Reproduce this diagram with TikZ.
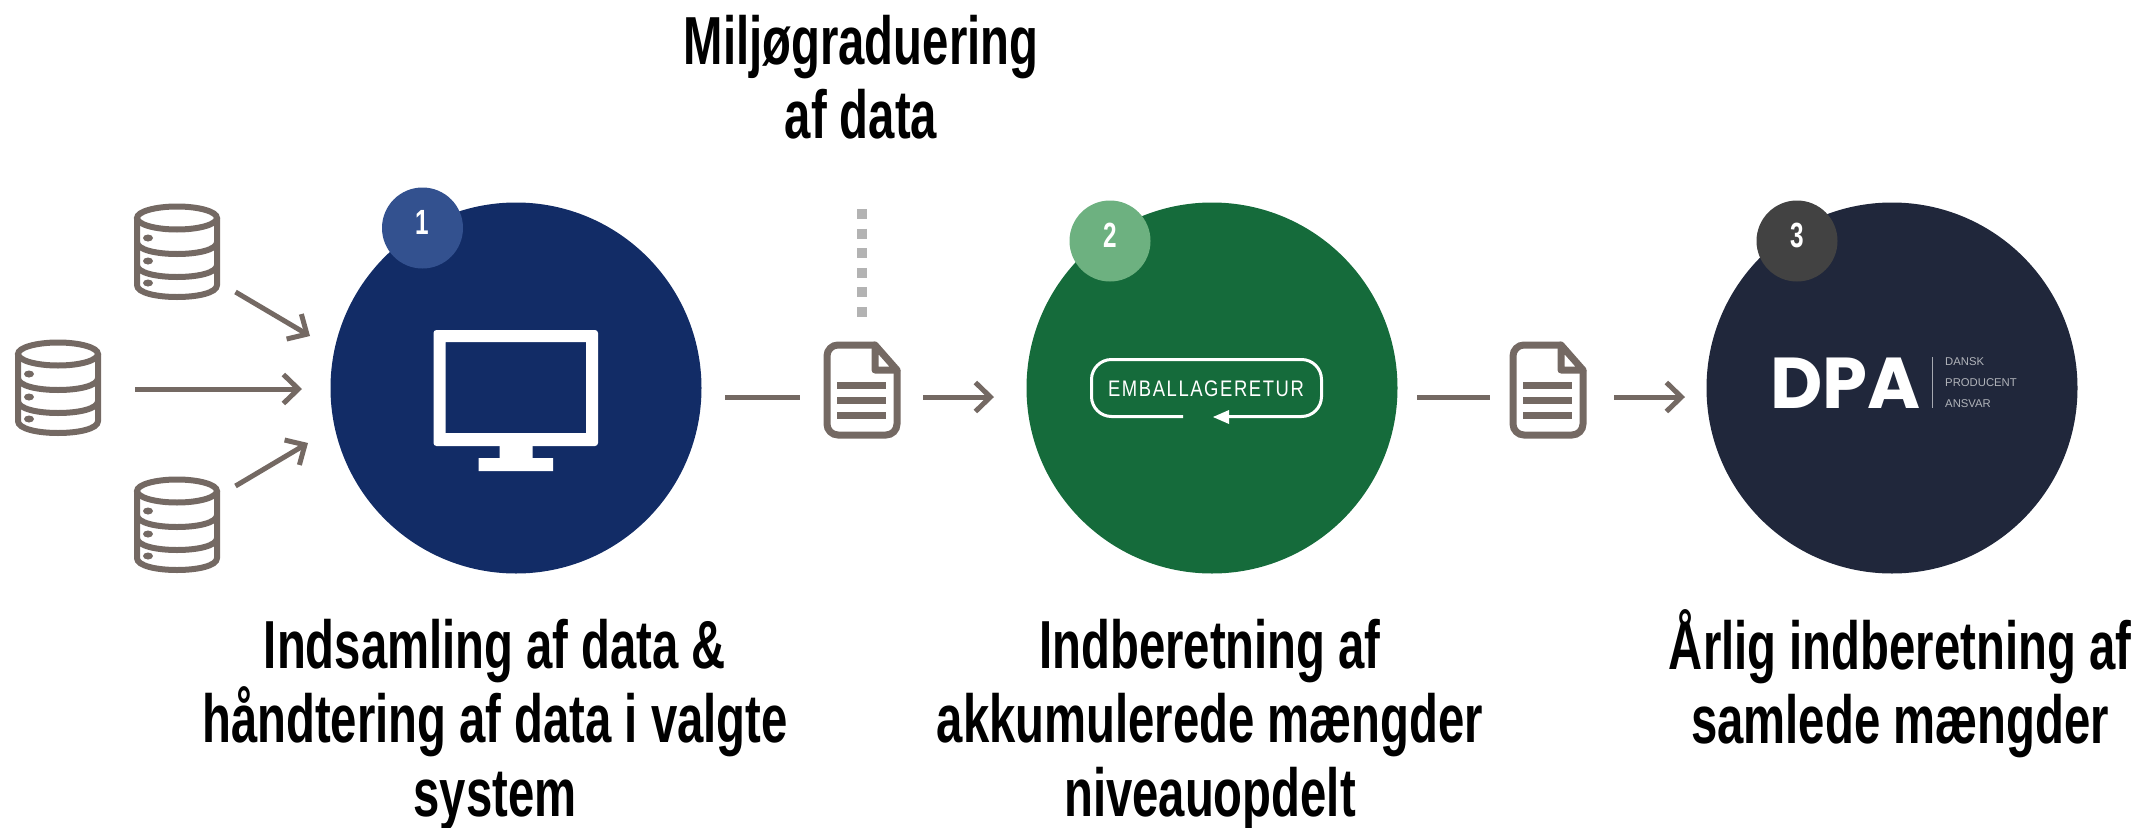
\documentclass[tikz,border=0pt]{standalone}
\usepackage{fontspec}
\setmainfont{Liberation Sans}
\newfontfamily\condfont[FakeStretch=0.695]{Liberation Sans}
\newfontfamily\logofont[FakeStretch=0.82,LetterSpace=7]{Liberation Sans}
\newfontfamily\dpafont{Poppins}
\usetikzlibrary{arrows.meta,positioning,calc}
\definecolor{iconbrown}{HTML}{746963}
\definecolor{dotgrey}{HTML}{B3B3B3}
\definecolor{navyone}{HTML}{122C66}
\definecolor{navybadge}{HTML}{33518F}
\definecolor{greentwo}{HTML}{156B3B}
\definecolor{greenbadge}{HTML}{6DB180}
\definecolor{navythree}{HTML}{20273B}
\definecolor{greybadge}{HTML}{424242}

\tikzset{
  bigcircle/.style={circle, minimum size=371pt, inner sep=0pt},
  badge/.style={circle, minimum size=81pt, inner sep=0pt, text=white, text depth=11pt, font=\condfont\bfseries\fontsize{35}{35}\selectfont},
  caption/.style={align=center, text=black, font=\condfont\bfseries\fontsize{68}{74}\selectfont},
  flowline/.style={iconbrown, line width=5pt},
  flowarrow/.style={flowline, -{Straight Barb[length=15pt, width=29pt, line width=5pt]}},
  iconline/.style={iconbrown, line width=6pt},
  pics/database/.style={code={
    \draw[iconline] (-40,-34) -- (-40,33) .. controls (-40,49) and (40,49) .. (40,33) -- (40,-34);
    \draw[iconline] (0,-34) ellipse (40pt and 11.5pt);
    \foreach \yy in {-10,13} {\draw[iconline] (-40,\yy) .. controls (-40,\yy+16) and (40,\yy+16) .. (40,\yy);}
    \foreach \yy in {-14,9,31} {\fill[iconbrown] (-29,\yy) ellipse (5pt and 3.5pt);}
  }},
  pics/document/.style={code={
    \draw[iconbrown, line width=7pt, rounded corners=11pt] (13,-45) -- (-35,-45) -- (-35,45) -- (35,45) -- (35,-20);
    \draw[iconbrown, line width=7pt, line join=round] (13,-45) -- (35,-20) -- (13,-20) -- cycle;
    \foreach \yy in {-5,10,25} {\fill[iconbrown] (-25,\yy-3.5) rectangle (24,\yy+3.5);}
  }}
}

\begin{document}
\begin{tikzpicture}[x=1pt, y=-1pt]
\useasboundingbox (0,0) rectangle (2133,827);

% Circles
\node[bigcircle, fill=navyone] (sys) at (516,388) {};
\node[bigcircle, fill=greentwo] (retur) at (1212,388) {};
\node[bigcircle, fill=navythree] (dpa) at (1892,388) {};

% Badges
\node[badge, fill=navybadge] (b1) at (422.5,228) {1};
\node[badge, fill=greenbadge] (b2) at (1110,241) {2};
\node[badge, fill=greybadge] (b3) at (1797,241) {3};

% Databases
\coordinate (db1) at (177,252);
\coordinate (db2) at (58,388);
\coordinate (db3) at (177,525);
\pic at (db1) {database};
\pic at (db2) {database};
\pic at (db3) {database};

% Documents
\coordinate (doc1) at (862,390);
\coordinate (doc2) at (1548,390);
\pic at (doc1) {document};
\pic at (doc2) {document};

% Monitor
\fill[white, even odd rule] (433.5,330) [rounded corners=3pt] rectangle (598,446) [sharp corners] (445.5,342) rectangle (586,433);
\fill[white] (499.5,444) rectangle (532.5,460) (478.5,458) rectangle (553,471);

% Emballageretur logo
\node[text=white, font=\logofont\fontsize{22.5}{22.5}\selectfont, inner sep=0pt] (embtext) at (1206,389) {EMBALLAGERETUR};
\coordinate (embstart) at (1183,416.5);
\coordinate (embend) at (1222,416.5);
\draw[white, line width=3pt, rounded corners=20pt] (embstart) -- (1091.5,416.5) -- (1091.5,359.5) -- (1321.5,359.5) -- (1321.5,416.5) -- (embend);
\fill[white] (1213,417) -- (1229,410) -- (1229,424) -- cycle;

% DPA logo
\node[text=white, font=\dpafont\bfseries\fontsize{72}{72}\selectfont, inner sep=0pt] (dpatext) at (1845.5,383) {DPA};
\draw[white!60!navythree, line width=0.8pt] (1932,357) -- (1932,408);
\node[anchor=west, text=white!65!navythree, font=\fontsize{11.3}{11.3}\selectfont, inner sep=0pt] (dansk) at (1945,362) {DANSK};
\node[anchor=west, text=white!65!navythree, font=\fontsize{11.3}{11.3}\selectfont, inner sep=0pt] (producent) at (1945,383) {PRODUCENT};
\node[anchor=west, text=white!65!navythree, font=\fontsize{11.3}{11.3}\selectfont, inner sep=0pt] (ansvar) at (1945,404) {ANSVAR};

% Arrows
\coordinate (a1s) at (235.5,292);
\coordinate (a1e) at (310,336);
\coordinate (a2s) at (135,389);
\coordinate (a2e) at (302,389);
\coordinate (a3s) at (235.5,486);
\coordinate (a3e) at (308,443);
\draw[flowarrow] (a1s) -- (a1e);
\draw[flowarrow] (a2s) -- (a2e);
\draw[flowarrow] (a3s) -- (a3e);

\coordinate (l1s) at (725,397);
\coordinate (l1e) at (800,397);
\coordinate (l2s) at (923,397);
\coordinate (l2e) at (994,397);
\coordinate (l3s) at (1417,397);
\coordinate (l3e) at (1490,397);
\coordinate (l4s) at (1614,397);
\coordinate (l4e) at (1685,397);
\draw[flowline] (l1s) -- (l1e);
\draw[flowarrow] (l2s) -- (l2e);
\draw[flowline] (l3s) -- (l3e);
\draw[flowarrow] (l4s) -- (l4e);

% Dotted line
\coordinate (dots) at (862,209);
\coordinate (dote) at (862,317);
\draw[dotgrey, line width=10pt, dash pattern=on 10pt off 9.6pt] (dots) -- (dote);

% Captions
\node[caption] (top) at (861,77) {Miljøgraduering\\af data};
\node[caption] (cap1) at (495,725) {Indsamling af data \&\\håndtering af data i valgte\\system};
\node[caption] (cap2) at (1210,725) {Indberetning af\\akkumulerede mængder\\niveauopdelt};
\node[caption] (cap3) at (1900,684) {Årlig indberetning af\\samlede mængder};

\end{tikzpicture}
\end{document}
